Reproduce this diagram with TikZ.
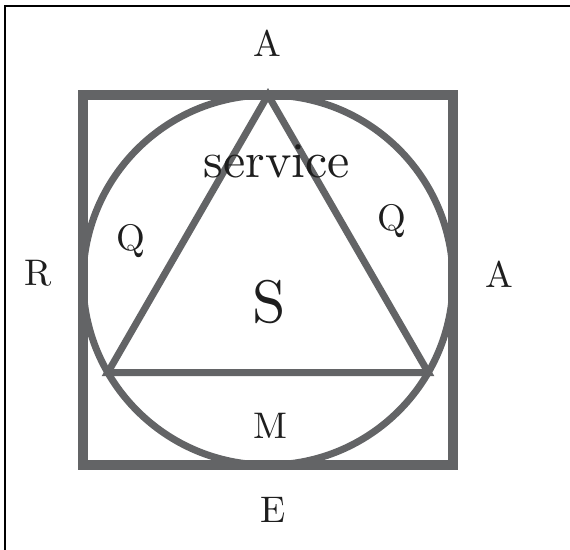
\documentclass[tikz,border=0pt]{standalone}
\usepackage{fontspec}
\newfontfamily\lmten{lmroman10-regular.otf}
\begin{document}
\begin{tikzpicture}[x=1pt,y=-1pt]
\definecolor{shapegray}{HTML}{636466}
\definecolor{txt}{HTML}{1E1E1E}
\tikzset{
  frame/.style={draw=black,line width=1.4pt},
  sq/.style={draw=shapegray,line width=10pt},
  circ/.style={draw=shapegray,line width=7pt},
  tri/.style={draw=shapegray,line width=7pt},
  lbl/.style={anchor=base,inner sep=0pt,text=txt,font=\lmten\fontsize{37}{40}\selectfont},
  big/.style={anchor=base,inner sep=0pt,text=txt,font=\lmten\fontsize{60}{62}\selectfont},
  mid/.style={anchor=base,inner sep=0pt,text=txt,font=\lmten\fontsize{50}{52}\selectfont}
}
\useasboundingbox (0,0) rectangle (570,549);
\fill[white] (0,0) rectangle (570,549);
\draw[frame] (5,6) rectangle (590,570);
% geometry
\coordinate (c) at (268,280);
\coordinate (top) at (268,95);
\coordinate (bl) at (107.8,372.5);
\coordinate (br) at (428.2,372.5);
\draw[sq] (83,95) rectangle (453,465);
\draw[circ] (c) circle[radius=185];
\draw[tri] (top) -- (bl) -- (br) -- cycle;
% labels
\node[lbl] (atop) at (267,56) {A};
\node[lbl] (r) at (38,285) {R};
\node[lbl] (aright) at (499,287) {A};
\node[lbl] (e) at (273,522) {E};
\node[lbl] (m) at (270,438) {M};
\node[lbl] (ql) at (131,250) {Q};
\node[lbl] (qr) at (392,230) {Q};
\node[big] (s) at (269,322) {S};
\node[mid] (serv) at (277,177) {service};
\end{tikzpicture}
\end{document}
